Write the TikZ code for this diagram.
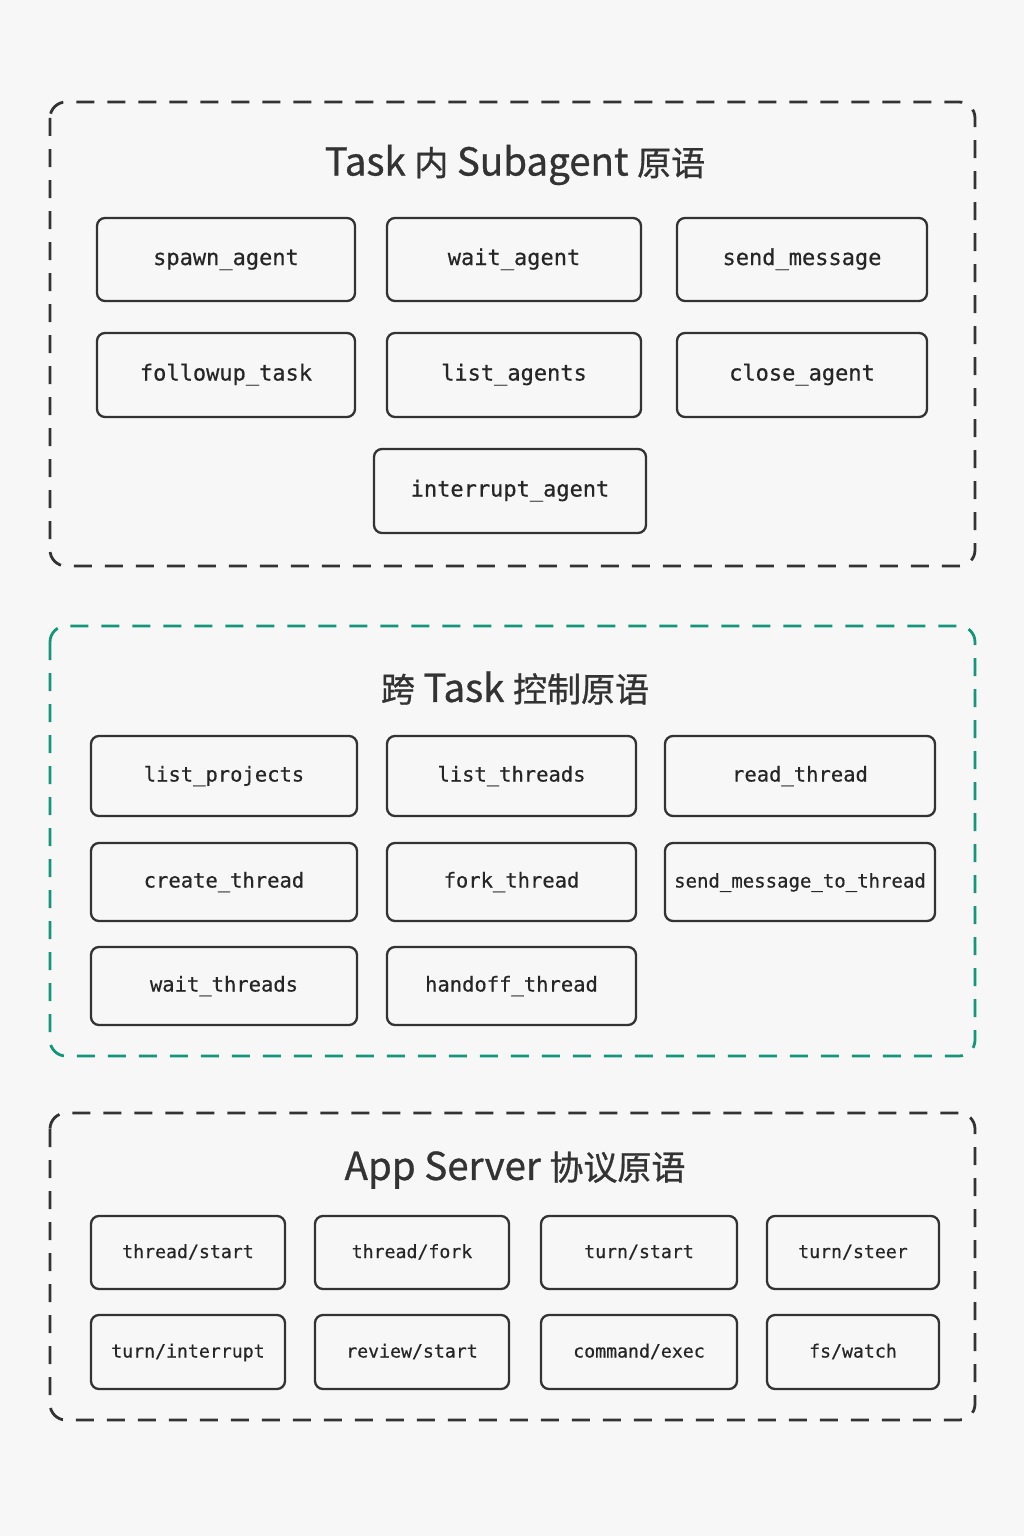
\documentclass[tikz,border=0pt]{standalone}
\usepackage{fontspec}
\setmonofont[FakeBold=0.5]{DejaVu Sans Mono}
\newfontfamily\cjk[FakeBold=0.8]{Noto Sans CJK SC}
\newcommand\zh[1]{{\fontsize{34}{40}\selectfont #1}}
\newcommand\us{\char95\relax}
\definecolor{paper}{HTML}{F7F7F7}
\definecolor{ink}{HTML}{333333}
\definecolor{teal}{HTML}{14967A}
\tikzset{
  group/.style={line width=2.8pt, dash pattern=on 18pt off 13pt, rounded corners=16pt},
  title/.style={text=ink, font=\cjk\fontsize{38.5}{44}\selectfont},
  prim/.style={draw=ink, fill=paper, line width=2.3pt, rounded corners=8pt, text=black!85,
    inner sep=0pt, text height=15pt, text depth=4pt, font=\ttfamily\fontsize{#1}{#1}\selectfont},
  prim/.default=22
}
\begin{document}
\begin{tikzpicture}[x=1pt,y=-1pt]
    	\fill[paper] (0,0) rectangle (1024,1536);
    	\useasboundingbox (0,0) rectangle (1024,1536);
    	% Task 内 Subagent 原语
    	\draw[group,draw=ink] (50,102) rectangle (975,566);
    	\node[title] (ttask) at (515,165) {Task \zh{内} Subagent \zh{原语}};
    	\node[prim,minimum width=258pt,minimum height=83pt] (spawn) at (226,259.5) {spawn\us agent};
    	\node[prim,minimum width=254pt,minimum height=83pt] (wait) at (514,259.5) {wait\us agent};
    	\node[prim,minimum width=250pt,minimum height=83pt] (sendmsg) at (802,259.5) {send\us message};
    	\node[prim,minimum width=258pt,minimum height=84pt] (followup) at (226,375) {followup\us task};
    	\node[prim,minimum width=254pt,minimum height=84pt] (listagents) at (514,375) {list\us agents};
    	\node[prim,minimum width=250pt,minimum height=84pt] (closeagent) at (802,375) {close\us agent};
    	\node[prim,minimum width=272pt,minimum height=84pt] (interrupt) at (510,491) {interrupt\us agent};
    	% 跨 Task 控制原语
    	\draw[group,draw=teal] (50,626) rectangle (975,1056);
    	\node[title] (tcross) at (515,688) {\zh{跨} Task \zh{控制原语}};
    	\node[prim=20.5,minimum width=266pt,minimum height=80pt] (listprojects) at (224,776) {list\us projects};
    	\node[prim=20.5,minimum width=249pt,minimum height=80pt] (listthreads) at (511.5,776) {list\us threads};
    	\node[prim=20.5,minimum width=270pt,minimum height=80pt] (readthread) at (800,776) {read\us thread};
    	\node[prim=20.5,minimum width=266pt,minimum height=78pt] (createthread) at (224,882) {create\us thread};
    	\node[prim=20.5,minimum width=249pt,minimum height=78pt] (forkthread) at (511.5,882) {fork\us thread};
    	\node[prim=19,minimum width=270pt,minimum height=78pt] (sendtothread) at (800,882) {send\us message\us to\us thread};
    	\node[prim=20.5,minimum width=266pt,minimum height=78pt] (waitthreads) at (224,986) {wait\us threads};
    	\node[prim=20.5,minimum width=249pt,minimum height=78pt] (handoff) at (511.5,986) {handoff\us thread};
    	% App Server 协议原语
    	\draw[group,draw=ink] (50,1113) rectangle (975,1420);
    	\node[title] (tapp) at (515,1170) {App Server \zh{协议原语}};
    	\node[prim=18.2,minimum width=194pt,minimum height=73pt] (threadstart) at (188,1252.5) {thread/start};
    	\node[prim=18.2,minimum width=194pt,minimum height=73pt] (threadfork) at (412,1252.5) {thread/fork};
    	\node[prim=18.2,minimum width=196pt,minimum height=73pt] (turnstart) at (639,1252.5) {turn/start};
    	\node[prim=18.2,minimum width=172pt,minimum height=73pt] (turnsteer) at (853,1252.5) {turn/steer};
    	\node[prim=18.2,minimum width=194pt,minimum height=74pt] (turninterrupt) at (188,1352) {turn/interrupt};
    	\node[prim=18.2,minimum width=194pt,minimum height=74pt] (reviewstart) at (412,1352) {review/start};
    	\node[prim=18.2,minimum width=196pt,minimum height=74pt] (commandexec) at (639,1352) {command/exec};
    	\node[prim=18.2,minimum width=172pt,minimum height=74pt] (fswatch) at (853,1352) {fs/watch};
    	\end{tikzpicture}
\end{document}
